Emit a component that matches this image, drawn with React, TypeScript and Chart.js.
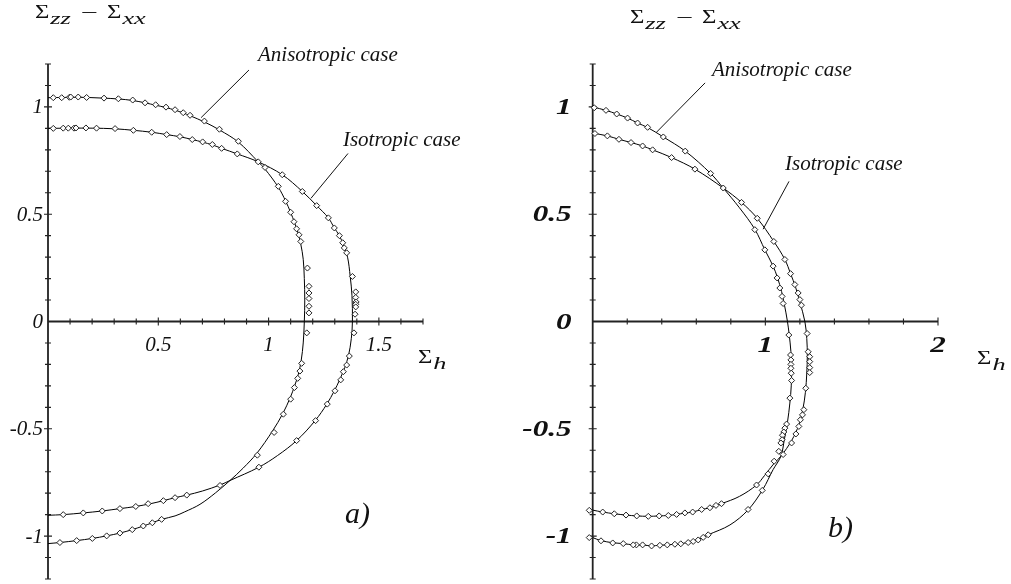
import { useEffect, useRef } from 'react';
import { Chart, registerables } from 'chart.js';

Chart.register(...registerables);

type P = [number, number];

// ---------- DATA ----------
// Panel a) anisotropic case: fitted curve and measured points
const aAnisoLine: P[] = [
  [0, 1.043], [0.06, 1.044], [0.14, 1.045], [0.25, 1.041], [0.32, 1.037], [0.384, 1.03], [0.44, 1.019],
  [0.488, 1.008], [0.535, 0.997], [0.576, 0.985], [0.613, 0.972], [0.644, 0.959], [0.709, 0.93],
  [0.777, 0.893], [0.863, 0.836], [0.953, 0.744], [0.984, 0.71], [1.044, 0.626], [1.077, 0.562],
  [1.1, 0.508], [1.118, 0.46], [1.134, 0.41], [1.146, 0.36], [1.157, 0.29], [1.162, 0.2], [1.164, 0.1],
  [1.162, 0], [1.157, -0.1], [1.148, -0.18], [1.135, -0.245], [1.118, -0.3], [1.098, -0.355],
  [1.064, -0.43], [1.018, -0.51], [0.946, -0.615], [0.885, -0.683], [0.825, -0.741], [0.76, -0.798],
  [0.689, -0.852], [0.62, -0.887], [0.576, -0.906], [0.515, -0.922], [0.473, -0.938], [0.432, -0.953],
  [0.382, -0.97], [0.326, -0.986], [0.266, -0.999], [0.201, -1.011], [0.13, -1.021], [0.054, -1.03],
  [0, -1.035],
];
const aAnisoPts: P[] = [
  [0.024, 1.043], [0.062, 1.043], [0.097, 1.045], [0.103, 1.046], [0.137, 1.046], [0.175, 1.044],
  [0.254, 1.041], [0.319, 1.038], [0.384, 1.032], [0.44, 1.019], [0.488, 1.01], [0.535, 0.999],
  [0.576, 0.987], [0.613, 0.973], [0.644, 0.961], [0.709, 0.934], [0.777, 0.896], [0.863, 0.84],
  [0.953, 0.744], [0.984, 0.718], [1.044, 0.63], [1.077, 0.56], [1.1, 0.509], [1.115, 0.465],
  [1.127, 0.432], [1.138, 0.404], [1.146, 0.373], [1.176, 0.249], [1.183, 0.164], [1.183, 0.133],
  [1.183, 0.107], [1.183, 0.071], [1.183, 0.04], [1.173, -0.053], [1.15, -0.195], [1.142, -0.231],
  [1.132, -0.265], [1.117, -0.308], [1.1, -0.362], [1.067, -0.432], [1.025, -0.517], [0.949, -0.623],
  [0.515, -0.922], [0.473, -0.938], [0.432, -0.953], [0.382, -0.97], [0.326, -0.986], [0.266, -0.999],
  [0.201, -1.011], [0.13, -1.021], [0.054, -1.03],
];
// Panel a) isotropic case
const aIsoLine: P[] = [
  [0, 0.9], [0.1, 0.901], [0.2, 0.901], [0.304, 0.898], [0.387, 0.891], [0.47, 0.882], [0.538, 0.871],
  [0.598, 0.861], [0.654, 0.848], [0.701, 0.836], [0.745, 0.823], [0.787, 0.807], [0.858, 0.781],
  [0.953, 0.744], [1.062, 0.684], [1.153, 0.606], [1.218, 0.54], [1.271, 0.483], [1.298, 0.436],
  [1.321, 0.4], [1.34, 0.355], [1.358, 0.3], [1.37, 0.21], [1.378, 0.12], [1.38, 0], [1.375, -0.08],
  [1.362, -0.16], [1.345, -0.215], [1.322, -0.272], [1.298, -0.323], [1.264, -0.385], [1.211, -0.462],
  [1.127, -0.555], [1.04, -0.625], [0.956, -0.679], [0.825, -0.741], [0.78, -0.762], [0.7, -0.79],
  [0.629, -0.809], [0.576, -0.821], [0.523, -0.835], [0.465, -0.849], [0.398, -0.862], [0.326, -0.872],
  [0.246, -0.883], [0.16, -0.892], [0.069, -0.9], [0, -0.903],
];
const aIsoPts: P[] = [
  [0.024, 0.9], [0.069, 0.901], [0.092, 0.901], [0.118, 0.901], [0.127, 0.902], [0.172, 0.902],
  [0.22, 0.901], [0.304, 0.899], [0.387, 0.891], [0.47, 0.882], [0.538, 0.871], [0.598, 0.862],
  [0.654, 0.848], [0.701, 0.837], [0.745, 0.825], [0.787, 0.807], [0.858, 0.781], [1.062, 0.684],
  [1.153, 0.606], [1.218, 0.54], [1.271, 0.483], [1.298, 0.436], [1.321, 0.4], [1.336, 0.367],
  [1.343, 0.343], [1.354, 0.32], [1.38, 0.21], [1.395, 0.138], [1.395, 0.112], [1.397, 0.091],
  [1.395, 0.08], [1.395, 0.068], [1.392, 0.034], [1.387, -0.053], [1.366, -0.161], [1.354, -0.203],
  [1.339, -0.234], [1.327, -0.272], [1.301, -0.323], [1.266, -0.385], [1.213, -0.462], [1.127, -0.555],
  [0.956, -0.679], [0.78, -0.764], [0.629, -0.809], [0.576, -0.821], [0.523, -0.835], [0.454, -0.849],
  [0.398, -0.862], [0.326, -0.872], [0.246, -0.883], [0.16, -0.892], [0.069, -0.9],
];
// Panel b) anisotropic case
const bAnisoLine: P[] = [
  [0, 1.0], [0.077, 0.984], [0.139, 0.967], [0.202, 0.948], [0.26, 0.925], [0.318, 0.904], [0.409, 0.86],
  [0.536, 0.794], [0.683, 0.69], [0.756, 0.622], [0.85, 0.53], [0.939, 0.43], [0.997, 0.334],
  [1.045, 0.258], [1.07, 0.205], [1.094, 0.14], [1.11, 0.08], [1.128, 0], [1.138, -0.06], [1.148, -0.14],
  [1.152, -0.22], [1.15, -0.3], [1.142, -0.38], [1.128, -0.47], [1.11, -0.55], [1.09, -0.628],
  [1.045, -0.69], [0.985, -0.783], [0.9, -0.878], [0.795, -0.948], [0.669, -0.994], [0.611, -1.016],
  [0.553, -1.03], [0.476, -1.038], [0.389, -1.043], [0.341, -1.045], [0.289, -1.042], [0.235, -1.041],
  [0.177, -1.035], [0.116, -1.031], [0.048, -1.021], [0, -1.007],
];
const bAnisoPts: P[] = [
  [0.009, 0.996], [0.077, 0.984], [0.139, 0.967], [0.202, 0.948], [0.26, 0.925], [0.318, 0.905],
  [0.409, 0.86], [0.536, 0.794], [0.683, 0.69], [0.756, 0.622], [0.939, 0.428], [0.997, 0.334],
  [1.045, 0.258], [1.068, 0.203], [1.084, 0.156], [1.097, 0.117], [1.103, 0.084], [1.136, -0.063],
  [1.146, -0.156], [1.148, -0.179], [1.148, -0.2], [1.148, -0.218], [1.15, -0.241], [1.152, -0.275],
  [1.142, -0.357], [1.123, -0.478], [1.113, -0.497], [1.107, -0.515], [1.099, -0.53], [1.097, -0.551],
  [1.09, -0.566], [1.078, -0.605], [1.016, -0.71], [0.982, -0.787], [0.9, -0.876], [0.669, -0.994],
  [0.64, -1.006], [0.611, -1.018], [0.582, -1.025], [0.553, -1.03], [0.51, -1.036], [0.476, -1.038],
  [0.432, -1.041], [0.389, -1.043], [0.341, -1.046], [0.289, -1.041], [0.253, -1.041], [0.235, -1.041],
  [0.177, -1.035], [0.116, -1.032], [0.048, -1.022], [-0.02, -1.007],
];
// Panel b) isotropic case
const bIsoLine: P[] = [
  [0, 0.878], [0.085, 0.865], [0.152, 0.849], [0.222, 0.834], [0.289, 0.818], [0.347, 0.8],
  [0.457, 0.764], [0.592, 0.71], [0.756, 0.622], [0.862, 0.555], [0.953, 0.481], [1.049, 0.373],
  [1.113, 0.289], [1.146, 0.223], [1.175, 0.16], [1.2, 0.09], [1.229, 0], [1.24, -0.08], [1.243, -0.16],
  [1.24, -0.24], [1.232, -0.33], [1.217, -0.41], [1.195, -0.48], [1.152, -0.555], [1.09, -0.628],
  [1.05, -0.662], [0.995, -0.718], [0.949, -0.762], [0.85, -0.815], [0.746, -0.849], [0.679, -0.868],
  [0.631, -0.876], [0.579, -0.888], [0.534, -0.893], [0.486, -0.899], [0.438, -0.904], [0.385, -0.906],
  [0.322, -0.908], [0.255, -0.906], [0.193, -0.902], [0.125, -0.896], [0.058, -0.888], [0, -0.879],
];
const bIsoPts: P[] = [
  [0.013, 0.876], [0.085, 0.865], [0.152, 0.849], [0.222, 0.834], [0.289, 0.818], [0.347, 0.8],
  [0.457, 0.764], [0.592, 0.71], [0.862, 0.555], [0.953, 0.481], [1.049, 0.373], [1.113, 0.289],
  [1.146, 0.223], [1.171, 0.172], [1.19, 0.133], [1.2, 0.102], [1.209, 0.076], [1.242, -0.056],
  [1.248, -0.141], [1.257, -0.164], [1.257, -0.187], [1.257, -0.215], [1.257, -0.238], [1.234, -0.311],
  [1.223, -0.411], [1.215, -0.435], [1.203, -0.458], [1.194, -0.489], [1.177, -0.524], [1.152, -0.566],
  [1.103, -0.62], [1.051, -0.651], [0.949, -0.762], [0.746, -0.849], [0.714, -0.857], [0.679, -0.868],
  [0.631, -0.876], [0.579, -0.888], [0.534, -0.892], [0.486, -0.899], [0.438, -0.904], [0.385, -0.906],
  [0.322, -0.908], [0.255, -0.906], [0.193, -0.902], [0.125, -0.896], [0.058, -0.888], [-0.02, -0.88],
];

// Tick labels
const aXLabelValues = [0.5, 1, 1.5];
const bXLabelValues = [1, 2];
const yLabelValues = [-1, -0.5, 0, 0.5, 1];
const seriesNames = ['Anisotropic case', 'Isotropic case'];
const panelTags = ['a)', 'b)'];

// ---------- LAYOUT / STYLE ----------
const FONT = '"Liberation Serif", "Times New Roman", serif';
const INK = '#111';
const AXIS = '#222';

interface Note { text: string; at: P; lead: [P, P] }
interface Panel {
  left: number; width: number;
  padding: { left: number; right: number; top: number; bottom: number };
  xMax: number; xStep: number; xLabels: number[];
  tickFont: string; tickScaleX: number; xLabelDrop: number; yLabelGap: number;
  aniso: { line: P[]; pts: P[] }; iso: { line: P[]; pts: P[] };
  notes: Note[]; tag: { text: string; at: P }; sigmaH: P; title: P;
}

const panels: Panel[] = [
  {
    left: 0, width: 505,
    padding: { left: 48, right: 82, top: 64, bottom: 2.3 },
    xMax: 1.7, xStep: 0.1, xLabels: aXLabelValues,
    tickFont: `italic 21px ${FONT}`, tickScaleX: 1, xLabelDrop: 29, yLabelGap: 5,
    aniso: { line: aAnisoLine, pts: aAnisoPts }, iso: { line: aIsoLine, pts: aIsoPts },
    notes: [
      { text: seriesNames[0], at: [0.952, 1.214], lead: [[0.911, 1.172], [0.694, 0.95]] },
      { text: seriesNames[1], at: [1.337, 0.82], lead: [[1.36, 0.783], [1.192, 0.574]] },
    ],
    tag: { text: panelTags[0], at: [1.346, -0.937] },
    sigmaH: [1.677, -0.195],
    title: [-0.059, 1.413],
  },
  {
    left: 505, width: 506,
    padding: { left: 87.7, right: 73, top: 64, bottom: 2.3 },
    xMax: 2, xStep: 0.2, xLabels: bXLabelValues,
    tickFont: `italic bold 24px ${FONT}`, tickScaleX: 1.3, xLabelDrop: 30, yLabelGap: 21,
    aniso: { line: bAnisoLine, pts: bAnisoPts }, iso: { line: bIsoLine, pts: bIsoPts },
    notes: [
      { text: seriesNames[0], at: [0.691, 1.144], lead: [[0.651, 1.112], [0.367, 0.88]] },
      { text: seriesNames[1], at: [1.114, 0.704], lead: [[1.137, 0.653], [0.987, 0.43]] },
    ],
    tag: { text: panelTags[1], at: [1.363, -1.006] },
    sigmaH: [2.226, -0.2],
    title: [0.216, 1.39],
  },
];

const Y_MIN = -1.2;
const Y_MAX = 1.2;
const Y_STEP = 0.1;

const toXY = (arr: P[]) => arr.map(([x, y]) => ({ x, y }));
const fmt = (v: number) => String(Math.round(v * 10) / 10);

// draws text horizontally stretched, returns the advance
function wideText(ctx: CanvasRenderingContext2D, s: string, x: number, y: number, font: string, sx: number) {
  ctx.save();
  ctx.font = font;
  ctx.textAlign = 'left';
  ctx.textBaseline = 'alphabetic';
  ctx.translate(x, y);
  ctx.scale(sx, 1);
  ctx.fillText(s, 0, 0);
  const w = ctx.measureText(s).width * sx;
  ctx.restore();
  return w;
}

function drawSigma(ctx: CanvasRenderingContext2D, x: number, y: number, sub: string) {
  const w = wideText(ctx, 'Σ', x, y, `19px ${FONT}`, 1.3);
  const ws = wideText(ctx, sub, x + w + 1, y + 6, `italic 17px ${FONT}`, 1.55);
  return x + w + 1 + ws;
}

function makePlugin(p: Panel) {
  return {
    id: 'crossAxes',
    beforeDatasetsDraw(chart: any) {
      const ctx: CanvasRenderingContext2D = chart.ctx;
      const xs = chart.scales.x;
      const ys = chart.scales.y;
      const x0 = xs.getPixelForValue(0);
      const y0 = ys.getPixelForValue(0);
      ctx.save();
      ctx.strokeStyle = AXIS;
      ctx.lineWidth = 1.8;
      ctx.beginPath();
      ctx.moveTo(x0, ys.getPixelForValue(Y_MAX));
      ctx.lineTo(x0, ys.getPixelForValue(Y_MIN));
      ctx.moveTo(x0, y0);
      ctx.lineTo(xs.getPixelForValue(p.xMax), y0);
      ctx.stroke();
      ctx.lineWidth = 1.1;
      ctx.beginPath();
      const nx = Math.round(p.xMax / p.xStep);
      for (let i = 1; i <= nx; i++) {
        const v = i * p.xStep;
        const major = p.xLabels.some((l) => Math.abs(l - v) < 1e-6);
        const len = major ? 4 : 3;
        const px = xs.getPixelForValue(v);
        ctx.moveTo(px, y0 - len);
        ctx.lineTo(px, y0 + len);
      }
      const ny = Math.round((Y_MAX - Y_MIN) / Y_STEP);
      for (let i = 0; i <= ny; i++) {
        const v = Y_MIN + i * Y_STEP;
        if (Math.abs(v) < 1e-6) continue;
        const major = yLabelValues.some((l) => Math.abs(l - v) < 1e-6);
        const len = major ? 4 : 3;
        const py = ys.getPixelForValue(v);
        ctx.moveTo(x0 - len, py);
        ctx.lineTo(x0 + len, py);
      }
      ctx.stroke();
      ctx.restore();
    },
    afterDraw(chart: any) {
      const ctx: CanvasRenderingContext2D = chart.ctx;
      const xs = chart.scales.x;
      const ys = chart.scales.y;
      const X = (v: number) => xs.getPixelForValue(v);
      const Y = (v: number) => ys.getPixelForValue(v);
      const x0 = X(0);
      const y0 = Y(0);
      ctx.save();
      ctx.fillStyle = INK;
      ctx.strokeStyle = INK;
      // tick labels
      ctx.font = p.tickFont;
      for (const v of p.xLabels) {
        ctx.save();
        ctx.translate(X(v), y0 + p.xLabelDrop);
        ctx.scale(p.tickScaleX, 1);
        ctx.textAlign = 'center';
        ctx.textBaseline = 'alphabetic';
        ctx.fillText(fmt(v), 0, 0);
        ctx.restore();
      }
      for (const v of yLabelValues) {
        ctx.save();
        ctx.translate(x0 - p.yLabelGap, Y(v));
        ctx.scale(p.tickScaleX, 1);
        ctx.textAlign = 'right';
        ctx.textBaseline = 'middle';
        ctx.fillText(fmt(v), 0, 1);
        ctx.restore();
      }
      // series notes with leader lines
      ctx.lineWidth = 1;
      for (const n of p.notes) {
        ctx.font = `italic 21px ${FONT}`;
        ctx.textAlign = 'left';
        ctx.textBaseline = 'alphabetic';
        ctx.fillText(n.text, X(n.at[0]), Y(n.at[1]));
        ctx.beginPath();
        ctx.moveTo(X(n.lead[0][0]), Y(n.lead[0][1]));
        ctx.lineTo(X(n.lead[1][0]), Y(n.lead[1][1]));
        ctx.stroke();
      }
      // panel tag
      ctx.font = `italic 30px ${FONT}`;
      ctx.textAlign = 'left';
      ctx.textBaseline = 'alphabetic';
      ctx.fillText(p.tag.text, X(p.tag.at[0]), Y(p.tag.at[1]));
      // axis titles
      drawSigma(ctx, X(p.sigmaH[0]), Y(p.sigmaH[1]), 'h');
      const ty = Y(p.title[1]);
      let tx = drawSigma(ctx, X(p.title[0]), ty, 'zz');
      tx += 10;
      tx += wideText(ctx, '−', tx, ty + 1, `19px ${FONT}`, 1.6);
      tx += 9;
      drawSigma(ctx, tx, ty, 'xx');
      ctx.restore();
    },
  };
}

function PanelChart({ p }: { p: Panel }) {
  const ref = useRef<HTMLCanvasElement | null>(null);
  useEffect(() => {
    if (!ref.current) return;
    const lineDs = (pts: P[]) => ({
      data: toXY(pts),
      showLine: true,
      borderColor: '#000',
      borderWidth: 1,
      pointRadius: 0,
      tension: 0.35,
      fill: false,
      clip: false as const,
      order: 2,
    });
    const ptDs = (pts: P[]) => ({
      data: toXY(pts),
      showLine: false,
      pointStyle: 'rectRot' as const,
      pointRadius: 3,
      pointBorderWidth: 1,
      pointBorderColor: '#222',
      pointBackgroundColor: '#fff',
      clip: false as const,
      order: 1,
    });
    const chart = new Chart(ref.current, {
      type: 'scatter',
      data: {
        datasets: [
          { label: seriesNames[0] + ' points', ...ptDs(p.aniso.pts) },
          { label: seriesNames[1] + ' points', ...ptDs(p.iso.pts) },
          { label: seriesNames[0], ...lineDs(p.aniso.line) },
          { label: seriesNames[1], ...lineDs(p.iso.line) },
        ] as any,
      },
      options: {
        animation: false,
        responsive: false,
        devicePixelRatio: 1,
        events: [],
        layout: { padding: p.padding },
        plugins: { legend: { display: false }, tooltip: { enabled: false }, title: { display: false } },
        scales: {
          x: { type: 'linear', min: 0, max: p.xMax, display: false },
          y: { type: 'linear', min: Y_MIN, max: Y_MAX, display: false },
        },
      },
      plugins: [makePlugin(p)],
    });
    return () => chart.destroy();
  }, [p]);
  return (
    <canvas
      ref={ref}
      width={p.width}
      height={584}
      style={{ position: 'absolute', left: p.left, top: 0, width: p.width, height: 584 }}
    />
  );
}

export default function App() {
  return (
    <div style={{ position: 'fixed', left: 0, top: 0, width: 1011, height: 584, background: '#fff', overflow: 'hidden' }}>
      {panels.map((p, i) => (
        <PanelChart key={i} p={p} />
      ))}
    </div>
  );
}
